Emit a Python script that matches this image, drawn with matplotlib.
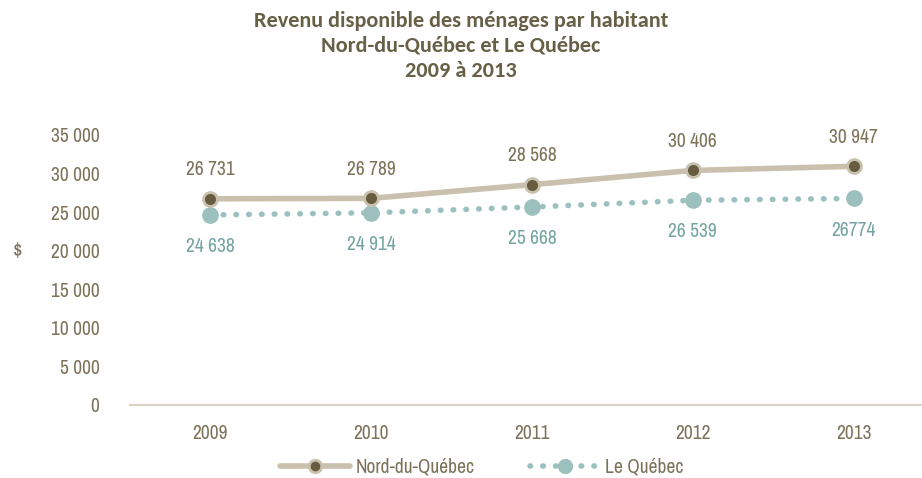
import matplotlib
matplotlib.use("Agg")
import matplotlib.pyplot as plt
from matplotlib.ticker import FuncFormatter

# données
annees = ["2009", "2010", "2011", "2012", "2013"]
nord = [26731, 26789, 28568, 30406, 30947]
quebec = [24638, 24914, 25668, 26539, 26774]
etiq_nord = ["26 731", "26 789", "28 568", "30 406", "30 947"]
etiq_quebec = ["24 638", "24 914", "25 668", "26 539", "26774"]

C_TXT = "#7d7259"
C_TITRE = "#676047"
C_NORD = "#c9c0ae"
C_NORD_PT = "#685c40"
C_QC = "#9cc0be"
C_QC_TXT = "#74a5a3"

plt.rcParams["font.family"] = ["Archivo Narrow", "Liberation Sans", "DejaVu Sans"]

fig = plt.figure(figsize=(9.22, 4.78), dpi=100)
ax = fig.add_axes([130/922, 1-405/478, 804/922, 270/478])

x = list(range(len(annees)))
ax.plot(x, nord, color=C_NORD, lw=4, marker="o", ms=10, mfc=C_NORD_PT,
        mec=C_NORD, mew=2, solid_capstyle="round", label="Nord-du-Québec", zorder=3)
ax.plot(x, quebec, color=C_QC, lw=4, ls=(0, (0.1, 2.2)), dash_capstyle="round",
        marker="o", ms=11, mfc=C_QC, mec=C_QC, label="Le Québec", zorder=2)

for i in x:
    ax.annotate(etiq_nord[i], (i, nord[i]), xytext=(0, 14), textcoords="offset points",
                ha="center", va="bottom", fontsize=14, color=C_TXT)
    ax.annotate(etiq_quebec[i], (i, quebec[i]), xytext=(0, -16), textcoords="offset points",
                ha="center", va="top", fontsize=14, color=C_QC_TXT)

ax.set_xlim(-0.5, 4.5)
ax.set_ylim(0, 35000)
ax.set_yticks(range(0, 35001, 5000))
ax.yaxis.set_major_formatter(FuncFormatter(lambda v, p: f"{int(v):,}".replace(",", " ")))
ax.set_xticks(x)
ax.set_xticklabels(annees)
ax.tick_params(axis="both", length=0, labelsize=14, labelcolor=C_TXT)
ax.tick_params(axis="y", pad=22)
ax.tick_params(axis="x", pad=14)
for s in ["top", "right", "left"]:
    ax.spines[s].set_visible(False)
ax.spines["bottom"].set_color("#d9d3c7")
ax.spines["bottom"].set_linewidth(1.5)

fig.text(18/922, 1-252/478, "$", fontsize=15, color=C_TXT, ha="center", va="center")

titre = "Revenu disponible des ménages par habitant\nNord-du-Québec et Le Québec\n2009 à 2013"
fig.text(0.5, 1-11/478, titre, ha="center", va="top", fontsize=16, fontweight="bold",
         color=C_TITRE, family=["Carlito", "DejaVu Sans"], linespacing=1.3)

leg = fig.legend(handles=ax.get_lines(), loc="center", bbox_to_anchor=(482/922, 1-467/478),
                 ncol=2, frameon=False, fontsize=14, labelcolor=C_TXT, handlelength=3.6,
                 columnspacing=2.8, handletextpad=0.3, markerscale=0.9)

fig.savefig("out.png", dpi=100)
